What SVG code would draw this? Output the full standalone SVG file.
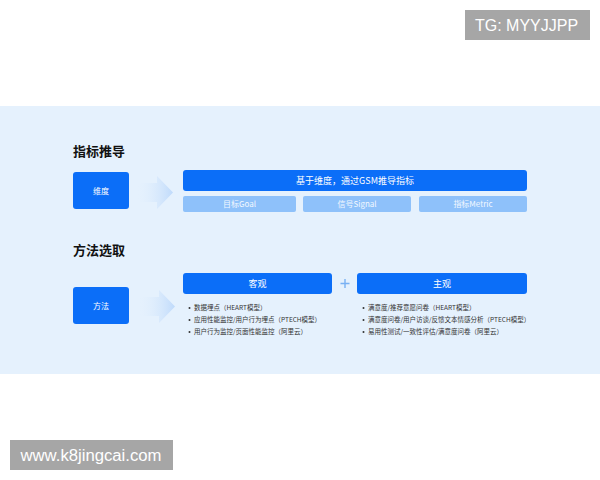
<svg xmlns="http://www.w3.org/2000/svg" width="600" height="480" viewBox="0 0 600 480">
<defs>
<linearGradient id="arrowGrad" x1="0" y1="0" x2="1" y2="0">
<stop offset="0" stop-color="#e5f1fd" stop-opacity="0"/>
<stop offset="1" stop-color="#bfdafb"/>
</linearGradient>
<style>
text{font-family:"Noto Sans CJK SC","Liberation Sans",sans-serif}
.title{font-size:13px;font-weight:bold;fill:#111}
.blue{fill:#0b6ef8}
.sub{fill:#8ec1fa}
.wt{fill:#fff;font-size:9px;text-anchor:middle}
.st{fill:#f2f8ff;font-size:8px;text-anchor:middle}
.li{fill:#333;font-size:6.5px}
.dot{fill:#333}
.wm{fill:#a6a6a6}
.wmt{fill:#fff;font-family:"Liberation Sans",sans-serif;font-size:16px}
</style>
</defs>
<rect width="600" height="480" fill="#fff"/>
<rect x="0" y="106" width="600" height="268" fill="#e5f1fd"/>

<g id="title1"><text class="title" x="73" y="156">指标推导</text></g>
<g id="title2"><text class="title" x="73" y="255">方法选取</text></g>

<g id="node-weidu">
<rect class="blue" x="73" y="172" width="56" height="37" rx="3"/>
<text class="wt" x="101" y="193.5" style="font-size:8px">维度</text>
</g>
<g id="node-gsm">
<rect class="blue" x="183" y="170" width="344" height="21" rx="3"/>
<text class="wt" x="355" y="183.5">基于维度，通过GSM推导指标</text>
</g>
<g id="node-goal">
<rect class="sub" x="183" y="196" width="113" height="16" rx="2"/>
<text class="st" x="239.5" y="207">目标Goal</text>
</g>
<g id="node-signal">
<rect class="sub" x="303" y="196" width="108" height="16" rx="2"/>
<text class="st" x="357" y="207">信号Signal</text>
</g>
<g id="node-metric">
<rect class="sub" x="419" y="196" width="108" height="16" rx="2"/>
<text class="st" x="473" y="207">指标Metric</text>
</g>

<g id="node-fangfa">
<rect class="blue" x="73" y="287" width="56" height="37" rx="3"/>
<text class="wt" x="101" y="308.5" style="font-size:8px">方法</text>
</g>
<g id="node-keguan">
<rect class="blue" x="183" y="273" width="149" height="21" rx="3"/>
<text class="wt" x="257.5" y="286.5">客观</text>
<circle class="dot" cx="189.5" cy="308" r="1"/>
<text class="li" x="194" y="310.3">数据埋点（HEART模型）</text>
<circle class="dot" cx="189.5" cy="320" r="1"/>
<text class="li" x="194" y="322.3">应用性能监控/用户行为埋点（PTECH模型）</text>
<circle class="dot" cx="189.5" cy="332" r="1"/>
<text class="li" x="194" y="334.3">用户行为监控/页面性能监控（阿里云）</text>
</g>
<g id="node-zhuguan">
<rect class="blue" x="357" y="273" width="170" height="21" rx="3"/>
<text class="wt" x="442" y="286.5">主观</text>
<circle class="dot" cx="363.5" cy="308" r="1"/>
<text class="li" x="368" y="310.3">满意度/推荐意愿问卷（HEART模型）</text>
<circle class="dot" cx="363.5" cy="320" r="1"/>
<text class="li" x="368" y="322.3">满意度问卷/用户访谈/反馈文本情感分析（PTECH模型）</text>
<circle class="dot" cx="363.5" cy="332" r="1"/>
<text class="li" x="368" y="334.3">易用性测试/一致性评估/满意度问卷（阿里云）</text>
</g>

<g id="connectors">
<polygon fill="url(#arrowGrad)" points="136,183 157,183 157,176 173,192.5 157,209 157,202 136,202"/>
<polygon fill="url(#arrowGrad)" points="138,297 159,297 159,290 175,306.5 159,323 159,316 138,316"/>
<path d="M340.5,283.5 H349.5 M345,279 V288" stroke="#79b1f3" stroke-width="1.4" fill="none"/>
</g>

<g id="wm1">
<rect class="wm" x="465" y="10" width="125" height="30"/>
<text class="wmt" x="475" y="31">TG: MYYJJPP</text>
</g>
<g id="wm2">
<rect class="wm" x="10" y="440" width="163" height="30"/>
<text class="wmt" x="20.5" y="461" textLength="141" lengthAdjust="spacingAndGlyphs">www.k8jingcai.com</text>
</g>
</svg>
